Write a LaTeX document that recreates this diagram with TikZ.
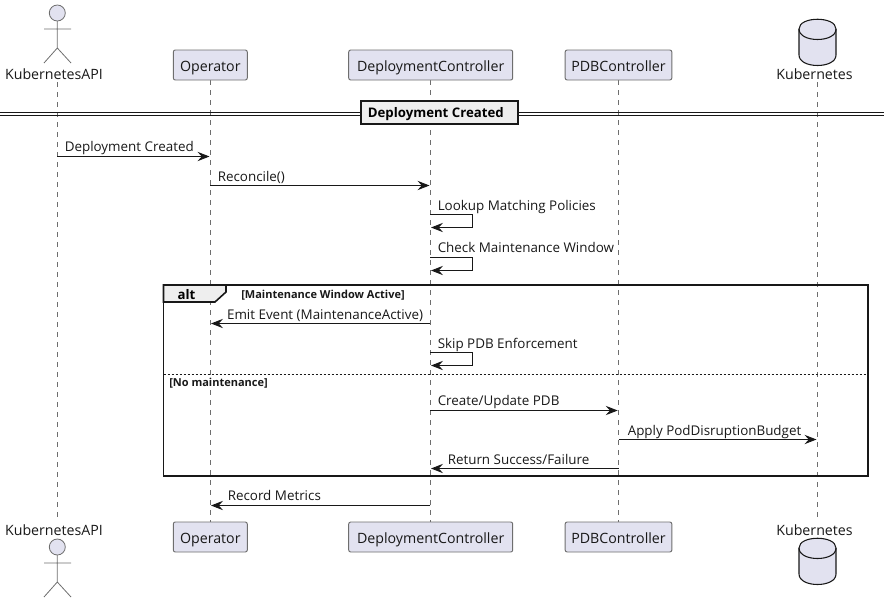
\documentclass[tikz,border=0pt]{standalone}
\usepackage{fontspec}
\setmainfont{Open Sans}
\usetikzlibrary{arrows.meta}
\definecolor{partfill}{HTML}{E2E2F0}
\definecolor{partline}{HTML}{6E6E6E}
\definecolor{ink}{HTML}{181818}
\definecolor{grp}{HTML}{EEEEEE}
\newcommand{\partfont}{\fontsize{10.65pt}{12pt}\selectfont}
\newcommand{\msgfont}{\fontsize{10.05pt}{11pt}\selectfont}
\newcommand{\guardfont}{\fontsize{8.25pt}{9pt}\selectfont\bfseries}
\tikzset{
  x=0.75pt,y=-0.75pt,
  part/.style={draw=partline,fill=partfill,rounded corners=1.5pt,line width=0.7pt,inner sep=0pt,text=ink,font=\partfont,text height=9.5pt,text depth=0.5pt,minimum height=22.5pt},
  plabel/.style={inner sep=0pt,text=ink,font=\partfont},
  life/.style={draw=partline,line width=0.5pt,dash pattern=on 3.75pt off 3.75pt},
  fig/.style={draw=partline,line width=0.6pt},
  dbshape/.style={draw=ink,fill=partfill,line width=0.8pt},
  msg/.style={draw=ink,line width=0.75pt,-{Stealth[length=9pt,width=7pt,inset=3.2pt]}},
  mtext/.style={inner sep=0pt,anchor=base west,text=ink,font=\msgfont},
  gtext/.style={inner sep=0pt,anchor=base west,text=ink,font=\guardfont},
  frameline/.style={draw=ink,line width=1.2pt},
}
\newcommand{\actorfig}[1]{%
  \draw[fig,fill=partfill] (57.3,#1) circle[radius=8];
  \draw[fig] (57.3,#1+8) -- (57.3,#1+35) (44,#1+16) -- (71,#1+16)
    (44,#1+50) -- (57.3,#1+35) -- (71,#1+50);
}
\newcommand{\dbfig}[1]{%
  \draw[dbshape] (799,#1+10) .. controls (799,#1-3) and (836,#1-3) .. (836,#1+10)
    -- (836,#1+36) .. controls (836,#1+50) and (799,#1+50) .. (799,#1+36) -- cycle;
  \draw[dbshape,fill=none] (799,#1+10) .. controls (799,#1+24) and (836,#1+24) .. (836,#1+10);
}
\begin{document}
\begin{tikzpicture}
\useasboundingbox (0,0) rectangle (884,603);
% lifeline ends
\coordinate (kt) at (57.3,82);   \coordinate (kb) at (57.3,518);
\coordinate (ot) at (210.3,80);  \coordinate (ob) at (210.3,522);
\coordinate (dt) at (430.3,80);  \coordinate (db) at (430.3,522);
\coordinate (pt) at (618.5,80);  \coordinate (pb) at (618.5,522);
\coordinate (st) at (817.3,82);  \coordinate (sb) at (817.3,522);
\draw[life] (kt) -- (kb);
\draw[life] (ot) -- (ob);
\draw[life] (dt) -- (db);
\draw[life] (pt) -- (pb);
\draw[life] (st) -- (sb);
% participants
\actorfig{13}
\actorfig{547}
\node[plabel] (kapiT) at (54,74) {KubernetesAPI};
\node[plabel] (kapiB) at (54,530.5) {KubernetesAPI};
\node[part,minimum width=55.5pt] (opT) at (210.3,65) {Operator};
\node[part,minimum width=55.5pt] (opB) at (210.3,537) {Operator};
\node[part,minimum width=123pt] (dcT) at (430.7,65) {DeploymentController};
\node[part,minimum width=123pt] (dcB) at (430.7,537) {DeploymentController};
\node[part,minimum width=80pt] (pdbT) at (618.5,65) {PDBController};
\node[part,minimum width=80pt] (pdbB) at (618.5,537) {PDBController};
\dbfig{19}
\dbfig{538}
\node[plabel] (k8T) at (814.5,74) {Kubernetes};
\node[plabel] (k8B) at (814.5,530.5) {Kubernetes};
% divider
\coordinate (divL1) at (0,112.5); \coordinate (divR1) at (884,112.5);
\coordinate (divL2) at (0,115.5); \coordinate (divR2) at (884,115.5);
\draw[draw=ink,line width=0.75pt] (divL1) -- (divR1);
\draw[draw=ink,line width=0.75pt] (divL2) -- (divR2);
\node[draw=ink,fill=grp,line width=1.4pt,minimum width=117.5pt,minimum height=17pt,inner sep=0pt,text=black,text height=8pt,text depth=0.5pt,font=\fontsize{9.9pt}{11pt}\selectfont\bfseries] (divbox) at (439.3,112.7) {Deployment Created\hspace*{5.25pt}};
% alt frame
\draw[frameline] (163.5,285) rectangle (868,476);
\draw[frameline,fill=grp] (163.5,285) -- (226,285) -- (226,292) -- (215,302) -- (163.5,302) -- cycle;
\node[inner sep=0pt,text=black,font=\fontsize{9.9pt}{11pt}\selectfont\bfseries] (altlabel) at (186.5,294.5) {alt};
\node[gtext] (g1) at (241,298) {[Maintenance Window Active]};
\coordinate (sepL) at (163.5,374); \coordinate (sepR) at (868,374);
\draw[draw=ink,line width=0.5pt,dash pattern=on 1.5pt off 1.5pt] (sepL) -- (sepR);
\node[gtext] (g2) at (169,386) {[No maintenance]};
% messages
\coordinate (a1) at (57.3,156.5); \coordinate (b1) at (209.5,156.5);
\draw[msg] (a1) -- (b1);
\node[mtext] (t1) at (64.5,151.3) {Deployment Created};
\coordinate (a2) at (210.3,185.5); \coordinate (b2) at (429.5,185.5);
\draw[msg] (a2) -- (b2);
\node[mtext] (t2) at (217.5,181.3) {Reconcile()};
\coordinate (a3) at (430.3,214.5); \coordinate (c3) at (472.5,214.5); \coordinate (d3) at (472.5,227.5); \coordinate (b3) at (431,227.5);
\draw[msg] (a3) -- (c3) -- (d3) -- (b3);
\node[mtext] (t3) at (437.5,210.3) {Lookup Matching Policies};
\coordinate (a4) at (430.3,257.5); \coordinate (c4) at (472.5,257.5); \coordinate (d4) at (472.5,270.5); \coordinate (b4) at (431,270.5);
\draw[msg] (a4) -- (c4) -- (d4) -- (b4);
\node[mtext] (t4) at (437.5,252.3) {Check Maintenance Window};
\coordinate (a5) at (430.3,323.5); \coordinate (b5) at (211,323.5);
\draw[msg] (a5) -- (b5);
\node[mtext] (t5) at (226.8,319.3) {Emit Event (MaintenanceActive)};
\coordinate (a6) at (430.3,352.5); \coordinate (c6) at (472.5,352.5); \coordinate (d6) at (472.5,365.5); \coordinate (b6) at (431,365.5);
\draw[msg] (a6) -- (c6) -- (d6) -- (b6);
\node[mtext] (t6) at (437.5,348.3) {Skip PDB Enforcement};
\coordinate (a7) at (430.3,410.5); \coordinate (b7) at (617.7,410.5);
\draw[msg] (a7) -- (b7);
\node[mtext] (t7) at (437.5,405.3) {Create/Update PDB};
\coordinate (a8) at (618.5,439.5); \coordinate (b8) at (816.5,439.5);
\draw[msg] (a8) -- (b8);
\node[mtext] (t8) at (627.5,435.3) {Apply PodDisruptionBudget};
\coordinate (a9) at (618.5,468.5); \coordinate (b9) at (431,468.5);
\draw[msg] (a9) -- (b9);
\node[mtext] (t9) at (447.5,464.3) {Return Success/Failure};
\coordinate (a10) at (430.3,505.5); \coordinate (b10) at (211,505.5);
\draw[msg] (a10) -- (b10);
\node[mtext] (t10) at (227.5,500.3) {Record Metrics};
\end{tikzpicture}
\end{document}
